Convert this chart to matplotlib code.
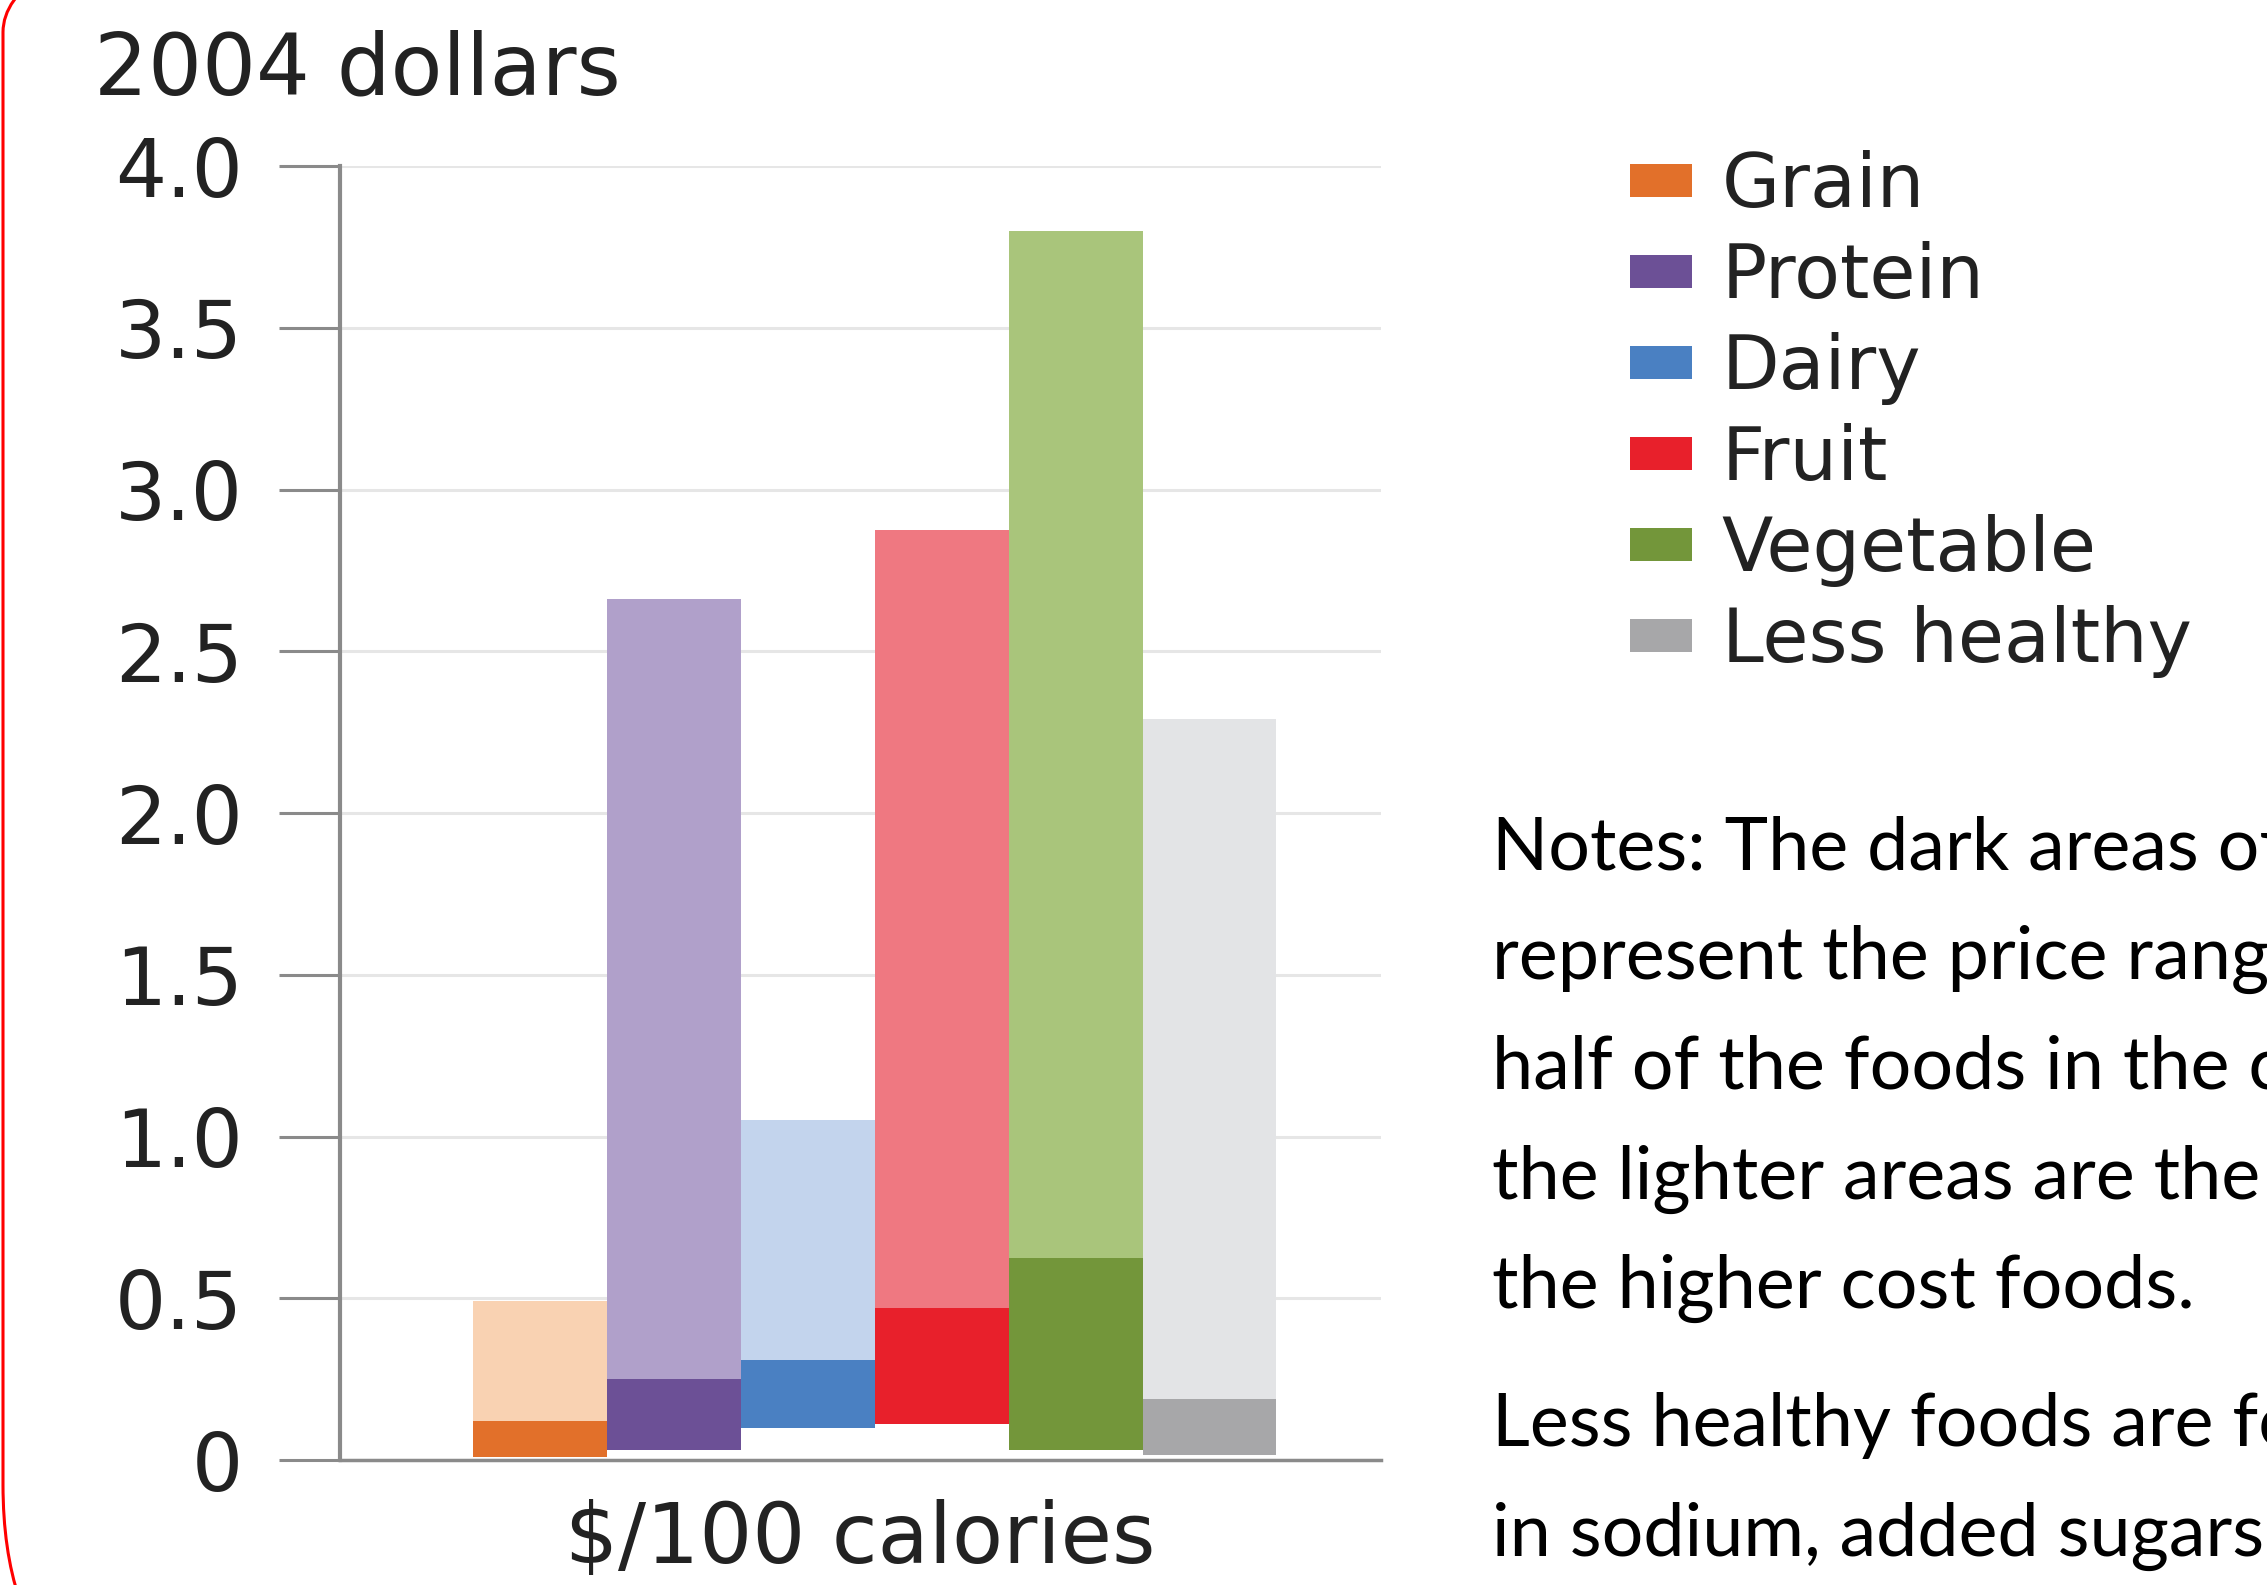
import matplotlib.pyplot as plt
from matplotlib.patches import Patch, FancyBboxPatch
from matplotlib.transforms import IdentityTransform

# price ranges, 2004 dollars per 100 calories
categories = ["Grain", "Protein", "Dairy", "Fruit", "Vegetable", "Less healthy"]
low = [0.01, 0.03, 0.10, 0.11, 0.03, 0.015]    # bottom of dark part
mid = [0.12, 0.25, 0.31, 0.47, 0.625, 0.19]    # dark/light split
high = [0.49, 2.66, 1.05, 2.875, 3.80, 2.29]   # top of light part

dark_colors = ["#e2702a", "#6c5096", "#4a80c2", "#e8202b", "#73963a", "#a7a7a9"]
light_colors = ["#f9d2b2", "#b0a0ca", "#c3d4ed", "#ef7881", "#a9c57b", "#e3e4e6"]

yticks = [0, 0.5, 1.0, 1.5, 2.0, 2.5, 3.0, 3.5, 4.0]
ytick_labels = ["0", "0.5", "1.0", "1.5", "2.0", "2.5", "3.0", "3.5", "4.0"]

notes = [
    "Notes: The dark areas of",
    "represent the price range",
    "half of the foods in the category",
    "the lighter areas are the",
    "the higher cost foods.",
    "Less healthy foods are foods",
    "in sodium, added sugars",
]
notes_y = [870, 979, 1089, 1199, 1308, 1446, 1556]   # baselines, px from top

W, H = 2267, 1585
fig = plt.figure(figsize=(W / 100, H / 100), dpi=100)
ax = fig.add_axes([340 / W, 1 - 1460 / H, (1381 - 340) / W, (1460 - 166) / H])

x = list(range(len(categories)))
dark_h = [m - l for m, l in zip(mid, low)]
light_h = [h - m for h, m in zip(high, mid)]
ax.bar(x, dark_h, bottom=low, width=1.0, color=dark_colors, zorder=3)
ax.bar(x, light_h, bottom=mid, width=1.0, color=light_colors, zorder=3)

ax.set_xlim(-1.49, 6.28)
ax.set_ylim(0, 4.0)
ax.set_yticks(yticks)
ax.set_yticklabels(ytick_labels)
ax.set_xticks([])

ax.yaxis.grid(True, color="#e6e6e6", linewidth=2.2, zorder=0)
for s in ["top", "right"]:
    ax.spines[s].set_visible(False)
ax.spines["left"].set_color("#8a8a8a")
ax.spines["left"].set_linewidth(3)
ax.spines["bottom"].set_color("#8a8a8a")
ax.spines["bottom"].set_linewidth(2.5)
ax.tick_params(axis="y", length=44, width=2.2, color="#8a8a8a", pad=26,
               labelsize=58, labelcolor="#222222")

fig.text(94 / W, 1 - 94 / H, "2004 dollars", fontsize=61, color="#222222",
         va="baseline", ha="left")
ax.set_xlabel("$/100 calories", fontsize=60, color="#222222", labelpad=28)

handles = [Patch(facecolor=c) for c in dark_colors]
fig.legend(handles, categories, loc="upper left",
           bbox_to_anchor=(1630 / W, 1 - 150 / H), frameon=False,
           fontsize=54, handlelength=0.82, handleheight=0.3,
           handletextpad=0.4, labelspacing=0.24, borderpad=0,
           borderaxespad=0, labelcolor="#222222")

# the notes run past the right edge, as in the original slide
for line, yb in zip(notes, notes_y):
    fig.text(1492 / W, 1 - yb / H, line, fontsize=53, family="Lato",
             color="black", va="baseline", ha="left")

# red rounded frame, only its left side is visible
frame = FancyBboxPatch((3, -160), 3000, 1973,
                       boxstyle="round,pad=0,rounding_size=260",
                       facecolor="none", edgecolor="#ff0000", linewidth=2.2,
                       transform=IdentityTransform())
fig.add_artist(frame)

plt.savefig("out.png", dpi=100)
